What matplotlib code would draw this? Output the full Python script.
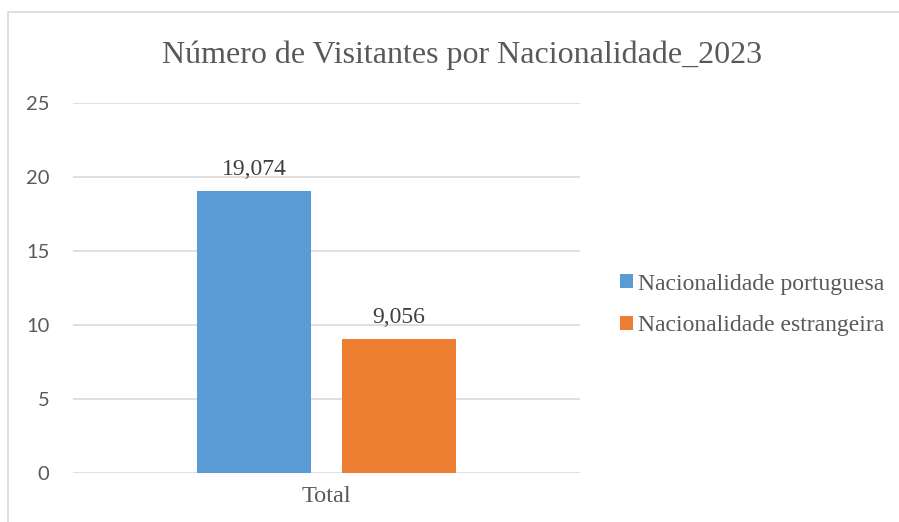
import numpy as np
import matplotlib

matplotlib.use("Agg")
import matplotlib.pyplot as plt
from matplotlib.patches import Rectangle

TITLE = "Número de Visitantes por Nacionalidade_2023"
CATEGORY = "Total"
SERIES = ["Nacionalidade portuguesa", "Nacionalidade estrangeira"]
VALUES = [19.074, 9.056]
COLORS = ["#5b9bd5", "#ed7d31"]
Y_TICKS = [0, 5, 10, 15, 20, 25]

SERIF = ["Liberation Serif", "DejaVu Serif"]
SANS = ["Lato", "DejaVu Sans"]
GRID = "#d9d9d9"
TEXT = "#595959"

W, H = 899, 522
fig = plt.figure(figsize=(W / 100, H / 100), dpi=100)

# chart frame (only top/left visible in the crop)
fig.patches.append(Rectangle((8 / W, -0.1), 1.2, 1 - 12 / H + 0.1,
                             transform=fig.transFigure, fill=False,
                             edgecolor=GRID, lw=1.2))

ax = fig.add_axes([73 / W, 1 - 473 / H, (580 - 73) / W, (473 - 103) / H])
width = 114 / 507
offs = [-(114 + 31) / 2 / 507, (114 + 31) / 2 / 507]
for i, (name, v, c) in enumerate(zip(SERIES, VALUES, COLORS)):
    ax.bar(offs[i], v, width, color=c, label=name, zorder=3)
    ax.text(offs[i], v + 0.75, f"{v:.3f}".replace(".", ","), ha="center",
            va="bottom", fontsize=17, family=SERIF, color="#404040")

ax.set_xlim(-0.5, 0.5)
ax.set_ylim(0, 25)
ax.set_yticks(Y_TICKS)
ax.set_yticklabels([str(t) for t in Y_TICKS], family=SANS, fontsize=14.5,
                   color=TEXT)
ax.set_xticks([0])
ax.set_xticklabels([CATEGORY], family=SERIF, fontsize=17.5, color=TEXT)
ax.tick_params(axis="y", length=0, pad=17)
ax.tick_params(axis="x", length=0, pad=9)
for s in ax.spines.values():
    s.set_visible(False)
for t in Y_TICKS:
    ax.axhline(t, color=GRID, lw=1.2, zorder=1)

fig.text(462 / W, 1 - 55 / H, TITLE, ha="center", va="center",
         family=SERIF, fontsize=23, color=TEXT)

leg = fig.legend(loc="center left", bbox_to_anchor=(599 / W, 1 - 305 / H),
                 frameon=False, prop={"family": SERIF, "size": 17},
                 handlelength=0.55, handleheight=0.55, handletextpad=0.2,
                 labelspacing=0.88)
for t in leg.get_texts():
    t.set_color(TEXT)

fig.savefig("out.png", dpi=100)
